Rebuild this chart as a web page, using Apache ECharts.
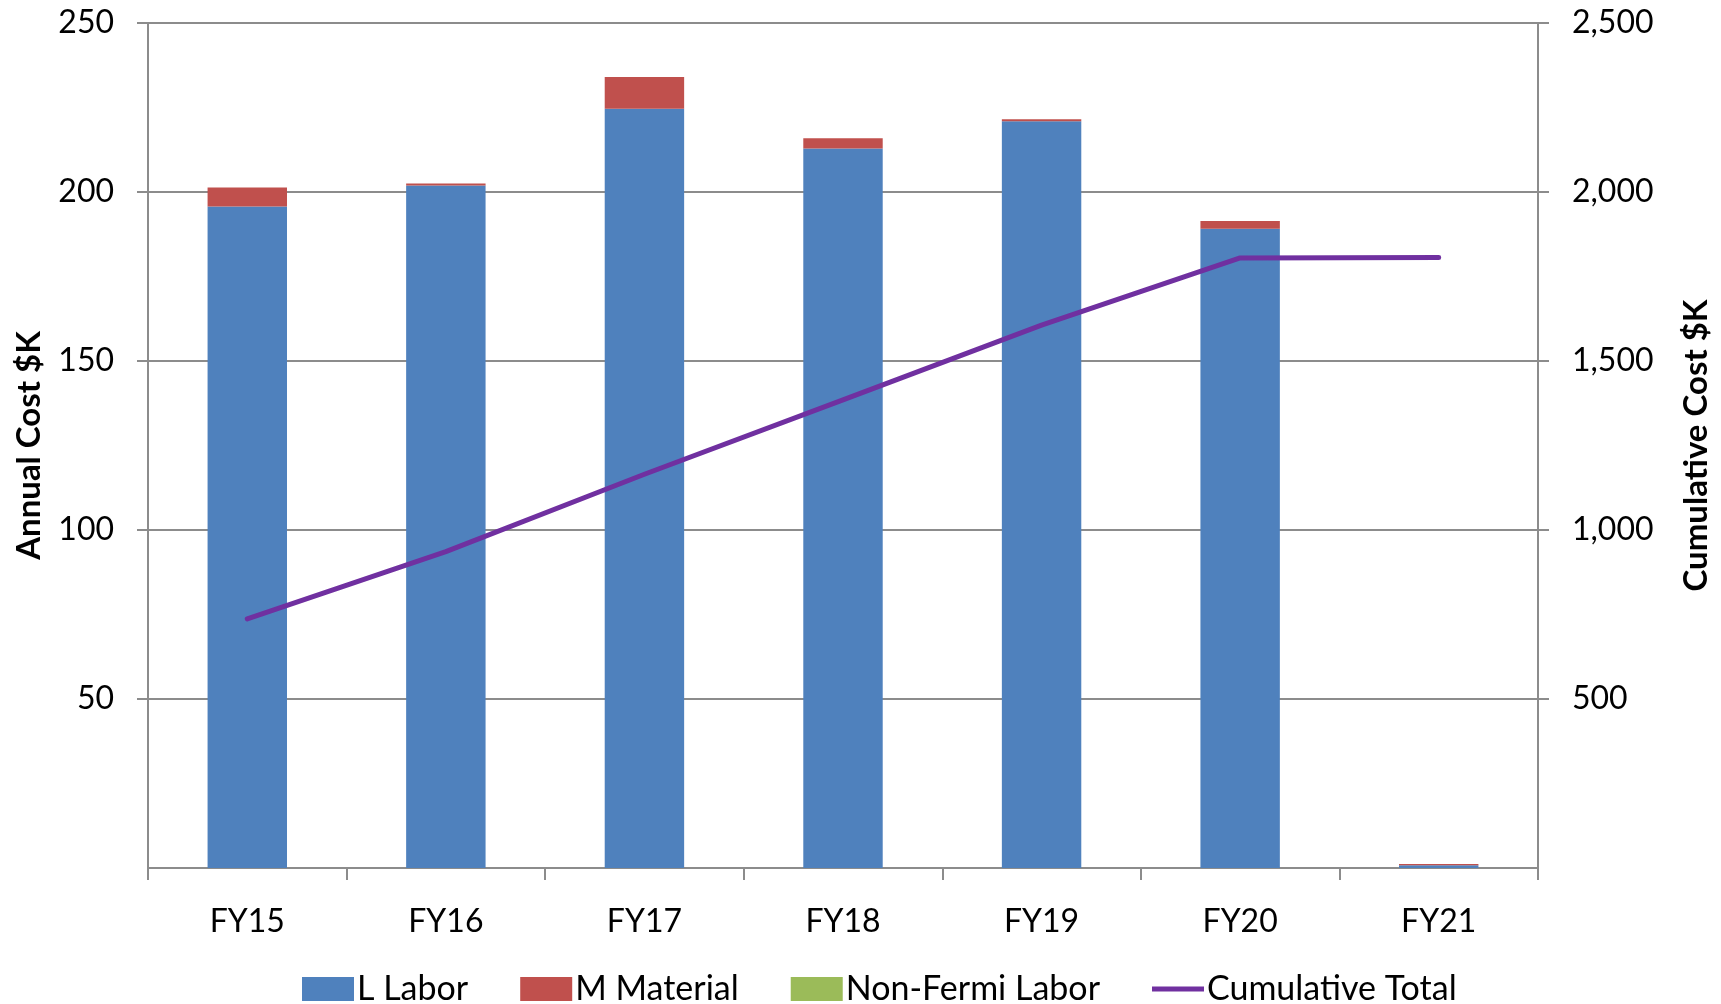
<!DOCTYPE html>
<html>
<head>
<meta charset="utf-8">
<script src="https://cdn.jsdelivr.net/npm/echarts@6/dist/echarts.min.js"></script>
<style>
html,body{margin:0;padding:0;background:#fff;}
#chart{width:1721px;height:1004px;}
</style>
</head>
<body>
<div id="chart"></div>
<script>
const categories = ['FY15','FY16','FY17','FY18','FY19','FY20','FY21'];
const laborValues = [195.7, 201.9, 224.6, 212.9, 220.9, 189.1, 0.8];
const materialValues = [5.6, 0.6, 9.4, 3.0, 0.6, 2.3, 0.4];
const nonFermiValues = [0, 0, 0, 0, 0, 0, 0];
const cumulativeValues = [737, 936, 1165, 1385, 1606, 1805, 1806];
const leftTicks = [0, 50, 100, 150, 200, 250];
const rightTicks = [0, 500, 1000, 1500, 2000, 2500];

const FONT = 'Lato';
const gridColor = '#8c8c8c';
const chart = echarts.init(document.getElementById('chart'), null, {renderer:'canvas'});
chart.setOption({
  animation:false,
  backgroundColor:'#fff',
  textStyle:{fontFamily:FONT,color:'#000'},
  grid:{left:148,right:182,top:23,bottom:136,containLabel:false},
  legend:{
    left:302, top:972, padding:0,
    itemWidth:52, itemHeight:24, itemGap:52,
    textStyle:{fontFamily:FONT,fontSize:34,color:'#000',padding:[0,0,0,-2]},
    data:[
      {name:'L Labor',icon:'rect'},
      {name:'M Material',icon:'rect'},
      {name:'Non-Fermi Labor',icon:'rect'},
      {name:'Cumulative Total',
       icon:'path://M0,0 L0.01,0 L0,0 Z M0,9.5 L52,9.5 L52,14.5 L0,14.5 Z M0,24 L0.01,24 L0,24 Z',
       itemStyle:{color:'#7030A0',borderWidth:0}}
    ]
  },
  xAxis:{
    type:'category',
    data:categories,
    boundaryGap:true,
    axisLine:{lineStyle:{color:gridColor,width:2}},
    axisTick:{show:true,length:12,lineStyle:{color:gridColor,width:2}},
    axisLabel:{fontFamily:FONT,fontSize:32,color:'#000',margin:38}
  },
  yAxis:[
    {
      type:'value',min:leftTicks[0],max:leftTicks[leftTicks.length-1],interval:50,
      name:'Annual Cost $K',nameLocation:'middle',nameGap:102,
      nameTextStyle:{fontFamily:FONT,fontSize:33,fontWeight:'bold',color:'#000'},
      axisLine:{show:true,lineStyle:{color:gridColor,width:2}},
      axisTick:{show:true,length:11,lineStyle:{color:gridColor,width:2}},
      axisLabel:{fontFamily:FONT,fontSize:32,color:'#000',margin:34,showMinLabel:false},
      splitLine:{show:true,lineStyle:{color:gridColor,width:2}}
    },
    {
      type:'value',min:rightTicks[0],max:rightTicks[rightTicks.length-1],interval:500,
      name:'Cumulative Cost $K',nameLocation:'middle',nameGap:142,nameRotate:90,
      nameTextStyle:{fontFamily:FONT,fontSize:33,fontWeight:'bold',color:'#000'},
      axisLine:{show:true,lineStyle:{color:gridColor,width:2}},
      axisTick:{show:true,length:11,lineStyle:{color:gridColor,width:2}},
      axisLabel:{fontFamily:FONT,fontSize:32,color:'#000',margin:34,showMinLabel:false,
        formatter:v=>v.toLocaleString('en-US')},
      splitLine:{show:false}
    }
  ],
  series:[
    {name:'L Labor',type:'bar',stack:'cost',barWidth:'40%',data:laborValues,
     itemStyle:{color:'#4F81BD'}},
    {name:'M Material',type:'bar',stack:'cost',barWidth:'40%',data:materialValues,
     itemStyle:{color:'#C0504D'}},
    {name:'Non-Fermi Labor',type:'bar',stack:'cost',barWidth:'40%',data:nonFermiValues,
     itemStyle:{color:'#9BBB59'}},
    {name:'Cumulative Total',type:'line',yAxisIndex:1,data:cumulativeValues,
     symbol:'none',lineStyle:{color:'#7030A0',width:5,cap:'round',join:'round'},
     itemStyle:{color:'#7030A0'},z:5}
  ]
});
</script>
</body>
</html>
